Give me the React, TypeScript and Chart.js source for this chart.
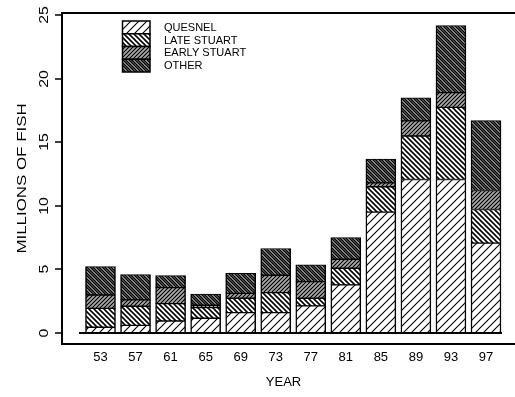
import React, { useEffect, useRef } from 'react';
import { Chart, registerables } from 'chart.js';
Chart.register(...registerables);

const YEARS = [53, 57, 61, 65, 69, 73, 77, 81, 85, 89, 93, 97];
const QUESNEL = [0.45, 0.6, 0.94, 1.16, 1.6, 1.6, 2.13, 3.78, 9.5, 12.07, 12.07, 7.06];
const LATE_STUART = [1.49, 1.5, 1.37, 0.84, 1.13, 1.57, 0.6, 1.31, 2.0, 3.42, 5.67, 2.65];
const EARLY_STUART = [1.05, 0.5, 1.26, 0.18, 0.39, 1.37, 1.31, 0.71, 0.3, 1.18, 1.16, 1.49];
const OTHER = [2.23, 1.99, 0.94, 0.87, 1.58, 2.1, 1.31, 1.7, 1.88, 1.81, 5.27, 5.49];
const SERIES_LABELS = ['QUESNEL', 'LATE STUART', 'EARLY STUART', 'OTHER'];
const Y_TICKS = [0, 5, 10, 15, 20, 25];
const X_TITLE = 'YEAR';
const Y_TITLE = 'MILLIONS OF FISH';

const FONT = '"Liberation Sans", Arial, Helvetica, sans-serif';

type Line = { offset: number; width: number; color: string };

function makePattern(size: number, dir: '/' | '\\', bg: string, lines: Line[]) {
  const c = document.createElement('canvas');
  c.width = size;
  c.height = size;
  const g = c.getContext('2d')!;
  g.fillStyle = bg;
  g.fillRect(0, 0, size, size);
  lines.forEach((l) => {
    g.strokeStyle = l.color;
    g.lineWidth = l.width;
    for (let k = -2; k <= 3; k++) {
      const cc = l.offset + k * size;
      g.beginPath();
      if (dir === '/') {
        g.moveTo(-size, cc + size);
        g.lineTo(2 * size, cc - 2 * size);
      } else {
        g.moveTo(-size, -size - cc);
        g.lineTo(2 * size, 2 * size - cc);
      }
      g.stroke();
    }
  });
  return g.createPattern(c, 'repeat')!;
}

const decor = {
  id: 'decor',
  afterDatasetsDraw(chart: any) {
    const { ctx, chartArea: a, scales } = chart;
    const x = scales.x;
    const y = scales.y;
    ctx.save();
    ctx.strokeStyle = '#000';
    ctx.fillStyle = '#000';
    ctx.lineWidth = 2;
    // frame
    ctx.beginPath();
    ctx.moveTo(a.right, a.top);
    ctx.lineTo(a.left, a.top);
    ctx.lineTo(a.left, a.bottom);
    ctx.lineTo(a.right, a.bottom);
    ctx.stroke();
    // baseline
    const y0 = y.getPixelForValue(0);
    ctx.beginPath();
    ctx.moveTo(x.getPixelForValue(YEARS[0]) - 21.5, y0);
    ctx.lineTo(x.getPixelForValue(YEARS[YEARS.length - 1]) + 16, y0);
    ctx.stroke();
    // y ticks
    ctx.font = `13px ${FONT}`;
    Y_TICKS.forEach((v) => {
      const py = Math.round(y.getPixelForValue(v));
      ctx.lineWidth = 1.5;
      ctx.beginPath();
      ctx.moveTo(a.left - 7, py);
      ctx.lineTo(a.left, py);
      ctx.stroke();
      ctx.save();
      ctx.translate(a.left - 18, py);
      ctx.rotate(-Math.PI / 2);
      ctx.scale(1.22, 1);
      ctx.textAlign = 'center';
      ctx.textBaseline = 'middle';
      ctx.fillText(String(v), 0, 0);
      ctx.restore();
    });
    // x labels
    ctx.textAlign = 'center';
    ctx.textBaseline = 'middle';
    YEARS.forEach((v) => {
      ctx.fillText(String(v), x.getPixelForValue(v), a.bottom + 13);
    });
    ctx.fillText(X_TITLE, (a.left + 505) / 2, a.bottom + 38);
    ctx.save();
    ctx.translate(22, (a.top + a.bottom) / 2);
    ctx.rotate(-Math.PI / 2);
    ctx.scale(1.3, 1);
    ctx.fillText(Y_TITLE, 0, 0);
    ctx.restore();
    // legend
    const lx = 122.5;
    const lw = 27.5;
    const ly = 21;
    const lh = 12.75;
    ctx.font = `11px ${FONT}`;
    ctx.textAlign = 'left';
    chart.data.datasets.forEach((ds: any, i: number) => {
      const top = ly + i * lh;
      ctx.fillStyle = ds.backgroundColor;
      ctx.fillRect(lx, top, lw, lh);
      ctx.lineWidth = 1.5;
      ctx.strokeStyle = '#000';
      ctx.strokeRect(lx, top, lw, lh);
      ctx.fillStyle = '#000';
      ctx.fillText(ds.label, 164, top + lh / 2 + 0.5);
    });
    ctx.restore();
  },
};

export default function App() {
  const ref = useRef<HTMLCanvasElement>(null);
  useEffect(() => {
    const patterns = [
      makePattern(8, '/', '#ffffff', [{ offset: 0, width: 1.1, color: '#000' }]),
      makePattern(5, '\\', '#ffffff', [{ offset: 0, width: 1.6, color: '#000' }]),
      makePattern(4, '/', '#ffffff', [
        { offset: 0, width: 1.4, color: '#000' },
        { offset: 2, width: 0.9, color: '#999' },
      ]),
      makePattern(6, '\\', '#7a7a7a', [
        { offset: 0, width: 1.4, color: '#000' },
        { offset: 3, width: 1.4, color: '#000' },
        { offset: 1.5, width: 0.7, color: '#fff' },
      ]),
    ];
    const values = [QUESNEL, LATE_STUART, EARLY_STUART, OTHER];
    const chart = new Chart(ref.current!, {
      type: 'bar',
      data: {
        labels: YEARS,
        datasets: values.map((d, i) => ({
          label: SERIES_LABELS[i],
          data: d,
          backgroundColor: patterns[i],
          borderColor: '#000',
          borderWidth: { top: 1, bottom: 1, left: 1.5, right: 1.5 },
          borderSkipped: false,
          barThickness: 30,
        })),
      } as any,
      options: {
        animation: false,
        responsive: true,
        maintainAspectRatio: false,
        layout: { padding: { left: 62, top: 13, right: 0, bottom: 53 } },
        plugins: { legend: { display: false }, tooltip: { enabled: false } },
        scales: {
          x: {
            type: 'linear',
            display: false,
            stacked: true,
            offset: false,
            grid: { offset: false },
            min: 48.606,
            max: 100.31,
          },
          y: { display: false, stacked: true, min: -0.865, max: 25.157 },
        },
      } as any,
      plugins: [decor],
    });
    return () => chart.destroy();
  }, []);
  return (
    <div style={{ position: 'fixed', left: 0, top: 0, width: 515, height: 397, background: '#fff' }}>
      <canvas ref={ref} />
    </div>
  );
}
